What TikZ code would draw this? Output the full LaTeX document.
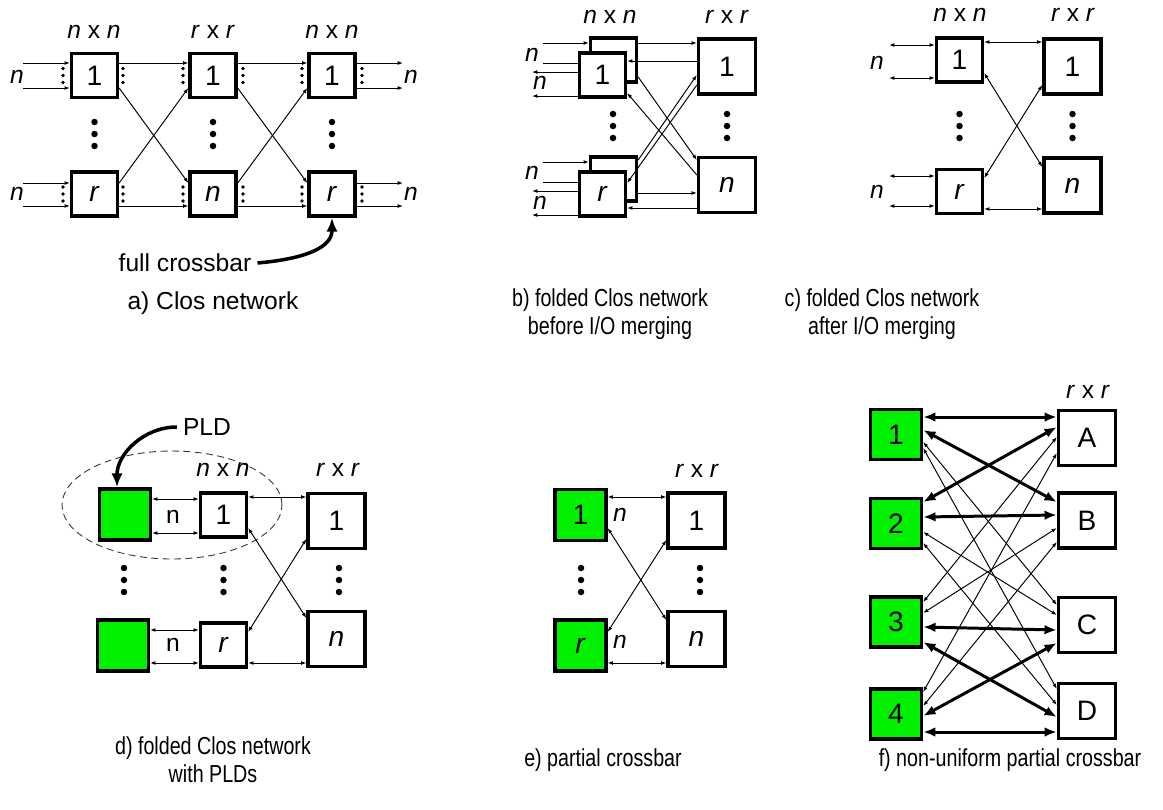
\documentclass[tikz,border=0pt]{standalone}
\usepackage{fontspec}
\setmainfont{Liberation Sans}
\newfontfamily\capfont[FakeStretch=0.8]{Liberation Sans}
\usetikzlibrary{positioning,arrows.meta}
\definecolor{pldgreen}{RGB}{0,240,0}
\newcommand{\bigdots}[2]{\foreach \d in {-12,0,12}{\fill (#1,#2+\d) circle [radius=0.065cm];}}
\newcommand{\pindots}[2]{\foreach \d in {-7,0,7}{\fill (#1,#2+\d) circle [radius=0.036cm];}}

\begin{document}
\begin{tikzpicture}[x=0.02cm,y=-0.02cm,font=\fontsize{14}{16}\selectfont,
  sw/.style={draw,line width=1.9pt,fill=white,inner sep=0pt,minimum width=0.92cm,minimum height=0.88cm,font=\fontsize{16}{18}\selectfont},
  bigsw/.style={sw,minimum width=1.14cm,minimum height=1.1cm},
  pld/.style={sw,fill=pldgreen,minimum width=1.02cm,minimum height=1.02cm},
  wire/.style={line width=0.55pt,-{Latex[length=3pt,width=2.2pt]}},
  biwire/.style={line width=0.55pt,{Latex[length=3pt,width=2.2pt]}-{Latex[length=3pt,width=2.2pt]}},
  fat/.style={line width=1.7pt,{Latex[length=7pt,width=5.5pt]}-{Latex[length=7pt,width=5.5pt]}},
  callout/.style={line width=2pt,-{Latex[length=8pt,width=6.5pt]}},
  captxt/.style={align=center,font=\capfont\fontsize{14}{16}\selectfont}]
\useasboundingbox (0,0) rectangle (1163,809);

% a) Clos network
\node[sw] (a11) at (94.5,75.5) {1};
\node[sw] (a1r) at (94.5,194) {\textit{r}};
\node[sw] (a21) at (213,75.5) {1};
\node[sw] (a2n) at (213,194) {\textit{n}};
\node[sw] (a31) at (332,75.5) {1};
\node[sw] (a3r) at (332,194) {\textit{r}};
\node (ta1) at (94,32) {\textit{n} x \textit{n}};
\node (ta2) at (213,32) {\textit{r} x \textit{r}};
\node (ta3) at (332,32) {\textit{n} x \textit{n}};
\node (na1) at (17,77) {\textit{n}};
\node (na2) at (17,194) {\textit{n}};
\node (na3) at (411,77) {\textit{n}};
\node (na4) at (411,194) {\textit{n}};
\foreach \y [count=\i] in {63,88,183,206} {
  \coordinate (ain\i) at (23,\y);
  \coordinate (aout\i) at (403,\y);
}
\draw[wire] (ain1) -- (ain1 -| a11.west);
\draw[wire] (ain2) -- (ain2 -| a11.west);
\draw[wire] (ain3) -- (ain3 -| a1r.west);
\draw[wire] (ain4) -- (ain4 -| a1r.west);
\draw[wire] (a11.east |- ain1) -- (a21.west |- ain1);
\draw[wire] (a11.east |- ain2) -- (a2n.west |- ain3);
\draw[wire] (a1r.east |- ain3) -- (a21.west |- ain2);
\draw[wire] (a1r.east |- ain4) -- (a2n.west |- ain4);
\draw[wire] (a21.east |- ain1) -- (a31.west |- ain1);
\draw[wire] (a21.east |- ain2) -- (a3r.west |- ain3);
\draw[wire] (a2n.east |- ain3) -- (a31.west |- ain2);
\draw[wire] (a2n.east |- ain4) -- (a3r.west |- ain4);
\draw[wire] (aout1 -| a31.east) -- (aout1);
\draw[wire] (aout2 -| a31.east) -- (aout2);
\draw[wire] (aout3 -| a3r.east) -- (aout3);
\draw[wire] (aout4 -| a3r.east) -- (aout4);
\foreach \x in {63,123,183,243,302,362} {
  \pindots{\x}{75.5}
  \pindots{\x}{194}
}
\bigdots{94.5}{134}
\bigdots{213}{134}
\bigdots{332}{134}
\node (fc) at (185,263) {full crossbar};
\draw[callout] (fc.east) to[out=5,in=-90] (a3r.south);
\node (capa) at (213,303) {a) Clos network};

% b) folded, before merging
\node[sw] (b1back) at (613.5,60) {};
\draw[wire] (543,63) coordinate (bin2) -- (bin2 -| b1back.west);
\node[sw] (b1) at (602.5,75) {1};
\node[sw] (bnback) at (613.5,179) {};
\draw[wire] (543,182) coordinate (bin4) -- (bin4 -| bnback.west);
\node[sw] (bn) at (602.5,194) {\textit{r}};
\node[bigsw] (bR1) at (727,66.5) {1};
\node[bigsw] (bRn) at (727,185) {\textit{n}};
\node (tb1) at (610,17) {\textit{n} x \textit{n}};
\node (tb2) at (727,17) {\textit{r} x \textit{r}};
\coordinate (bin1) at (543,43);
\coordinate (bin3) at (543,162);
\foreach \y [count=\i] in {72,96,191,215} \coordinate (bout\i) at (532,\y);
\draw[wire] (bin1) -- (bin1 -| b1back.west);
\draw[wire] (bin3) -- (bin3 -| bnback.west);
\draw[wire] (bout1 -| b1.west) -- (bout1);
\draw[wire] (bout2 -| b1.west) -- (bout2);
\draw[wire] (bout3 -| bn.west) -- (bout3);
\draw[wire] (bout4 -| bn.west) -- (bout4);
\node (nb1) at (532,55) {\textit{n}};
\node (nb2) at (540,83) {\textit{n}};
\node (nb3) at (532,173) {\textit{n}};
\node (nb4) at (540,203) {\textit{n}};
\draw[wire] (b1back.east |- bin1) -- (bR1.west |- bin1);
\draw[wire] (bR1.west |- 0,61) -- (b1.east |- 0,61);
\draw[wire] (b1back.east |- 0,77) -- (bRn.west |- 0,160);
\draw[wire] (bRn.west |- 0,175) -- (b1.east |- 0,93);
\draw[wire] (bnback.east |- 0,160) -- (bR1.west |- 0,75);
\draw[wire] (bR1.west |- 0,85) -- (bn.east |- 0,183);
\draw[wire] (bnback.east |- 0,193) -- (bRn.west |- 0,193);
\draw[wire] (bRn.west |- 0,208) -- (bn.east |- 0,208);
\bigdots{613}{126}
\bigdots{727}{126}
\node[captxt] (capb) at (610,314) {b) folded Clos network\\before I/O merging};

% c) folded, after merging
\node[sw] (cL1) at (959.5,60) {1};
\node[sw] (cLr) at (959.5,191.5) {\textit{r}};
\node[bigsw] (cR1) at (1072.5,66.5) {1};
\node[bigsw] (cRn) at (1072.5,185.5) {\textit{n}};
\node (tc1) at (960,15) {\textit{n} x \textit{n}};
\node (tc2) at (1073,15) {\textit{r} x \textit{r}};
\node (nc1) at (877,63) {\textit{n}};
\node (nc2) at (877,192) {\textit{n}};
\foreach \y [count=\i] in {45,78,176,206} \coordinate (cio\i) at (889,\y);
\draw[biwire] (cio1) -- (cio1 -| cL1.west);
\draw[biwire] (cio2) -- (cio2 -| cL1.west);
\draw[biwire] (cio3) -- (cio3 -| cLr.west);
\draw[biwire] (cio4) -- (cio4 -| cLr.west);
\draw[biwire] (cL1.east |- 0,42) -- (cR1.west |- 0,42);
\draw[biwire] (cL1.east |- 0,73) -- (cRn.west |- 0,167);
\draw[biwire] (cR1.west |- 0,85) -- (cLr.east |- 0,178);
\draw[biwire] (cLr.east |- 0,209) -- (cRn.west |- 0,209);
\bigdots{959.5}{126}
\bigdots{1072.5}{126}
\node[captxt] (capc) at (882,314) {c) folded Clos network\\after I/O merging};

% d) with PLDs
\draw[line width=0.5pt,dash pattern=on 4pt off 2.5pt,black!80] (172,505) ellipse [x radius=2.2cm,y radius=1.08cm];
\node[pld] (dP1) at (125,514.5) {};
\node[pld] (dPr) at (123,645.5) {};
\node[sw] (dL1) at (223.5,515) {1};
\node[sw] (dLr) at (223.5,645) {\textit{r}};
\node[bigsw] (dR1) at (336.5,521) {1};
\node[bigsw] (dRn) at (336.5,639) {\textit{n}};
\node (td1) at (223,470) {\textit{n} x \textit{n}};
\node (td2) at (338,470) {\textit{r} x \textit{r}};
\node (nd1) at (173,517) {n};
\node (nd2) at (173,645) {n};
\draw[biwire] (dP1.east |- 0,499) -- (dL1.west |- 0,499);
\draw[biwire] (dP1.east |- 0,533) -- (dL1.west |- 0,533);
\draw[biwire] (dPr.east |- 0,630) -- (dLr.west |- 0,630);
\draw[biwire] (dPr.east |- 0,663) -- (dLr.west |- 0,663);
\draw[biwire] (dL1.east |- 0,497) -- (dR1.west |- 0,497);
\draw[biwire] (dL1.east |- 0,528) -- (dRn.west |- 0,618);
\draw[biwire] (dR1.west |- 0,539) -- (dLr.east |- 0,632);
\draw[biwire] (dLr.east |- 0,663) -- (dRn.west |- 0,663);
\bigdots{124}{580}
\bigdots{223.5}{580}
\bigdots{339}{580}
\node (pldlbl) at (207,427) {PLD};
\draw[callout] (pldlbl.west) to[out=180,in=90] (dP1.north -| 117,0);
\node[captxt] (capd) at (213,760) {d) folded Clos network\\with PLDs};

% e) partial crossbar
\node[pld] (eP1) at (580.5,515) {1};
\node[pld] (ePr) at (580.5,645.5) {\textit{r}};
\node[bigsw] (eR1) at (696.5,520.5) {1};
\node[bigsw] (eRn) at (696.5,639) {\textit{n}};
\node (te1) at (697,471) {\textit{r} x \textit{r}};
\node (ne1) at (620,515) {\textit{n}};
\node (ne2) at (620,642) {\textit{n}};
\draw[biwire] (eP1.east |- 0,497) -- (eR1.west |- 0,497);
\draw[biwire] (eP1.east |- 0,528) -- (eRn.west |- 0,620);
\draw[biwire] (eR1.west |- 0,540) -- (ePr.east |- 0,632);
\draw[biwire] (ePr.east |- 0,663) -- (eRn.west |- 0,663);
\bigdots{581}{580}
\bigdots{700}{580}
\node[captxt] (cape) at (603,760) {e) partial crossbar};

% f) non-uniform partial crossbar
\node[pld,minimum height=1cm] (fP1) at (896,434.5) {1};
\node[pld,minimum height=1cm] (fP2) at (896,523.5) {2};
\node[pld,minimum height=1cm] (fP3) at (896,622) {3};
\node[pld,minimum height=1cm] (fP4) at (896,714) {4};
\node[bigsw] (fA) at (1087,438) {A};
\node[bigsw] (fB) at (1087,520.5) {B};
\node[bigsw] (fC) at (1087,625) {C};
\node[bigsw] (fD) at (1087,711) {D};
\node (tf1) at (1088,392) {\textit{r} x \textit{r}};
\draw[biwire] (fP1.east |- 0,442) -- (fC.west |- 0,605);
\draw[biwire] (fP1.east |- 0,448) -- (fD.west |- 0,689);
\draw[biwire] (fP2.east |- 0,532) -- (fC.west |- 0,615);
\draw[biwire] (fP2.east |- 0,543) -- (fD.west |- 0,705);
\draw[biwire] (fP3.east |- 0,602) -- (fA.west |- 0,437);
\draw[biwire] (fP3.east |- 0,613) -- (fB.west |- 0,528);
\draw[biwire] (fP4.east |- 0,692) -- (fA.west |- 0,453);
\draw[biwire] (fP4.east |- 0,706) -- (fB.west |- 0,542);
\draw[fat] (fP1.east |- 0,417) -- (fA.west |- 0,417);
\draw[fat] (fP1.east |- 0,430) -- (fB.west |- 0,502);
\draw[fat] (fP2.east |- 0,502) -- (fA.west |- 0,427);
\draw[fat] (fP2.east |- 0,517) -- (fB.west |- 0,515);
\draw[fat] (fP3.east |- 0,627) -- (fC.west |- 0,630);
\draw[fat] (fP3.east |- 0,642) -- (fD.west |- 0,717);
\draw[fat] (fP4.east |- 0,716) -- (fC.west |- 0,643);
\draw[fat] (fP4.east |- 0,732) -- (fD.west |- 0,732);
\node[captxt] (capf) at (1010,760) {f) non-uniform partial crossbar};
\end{tikzpicture}
\end{document}
